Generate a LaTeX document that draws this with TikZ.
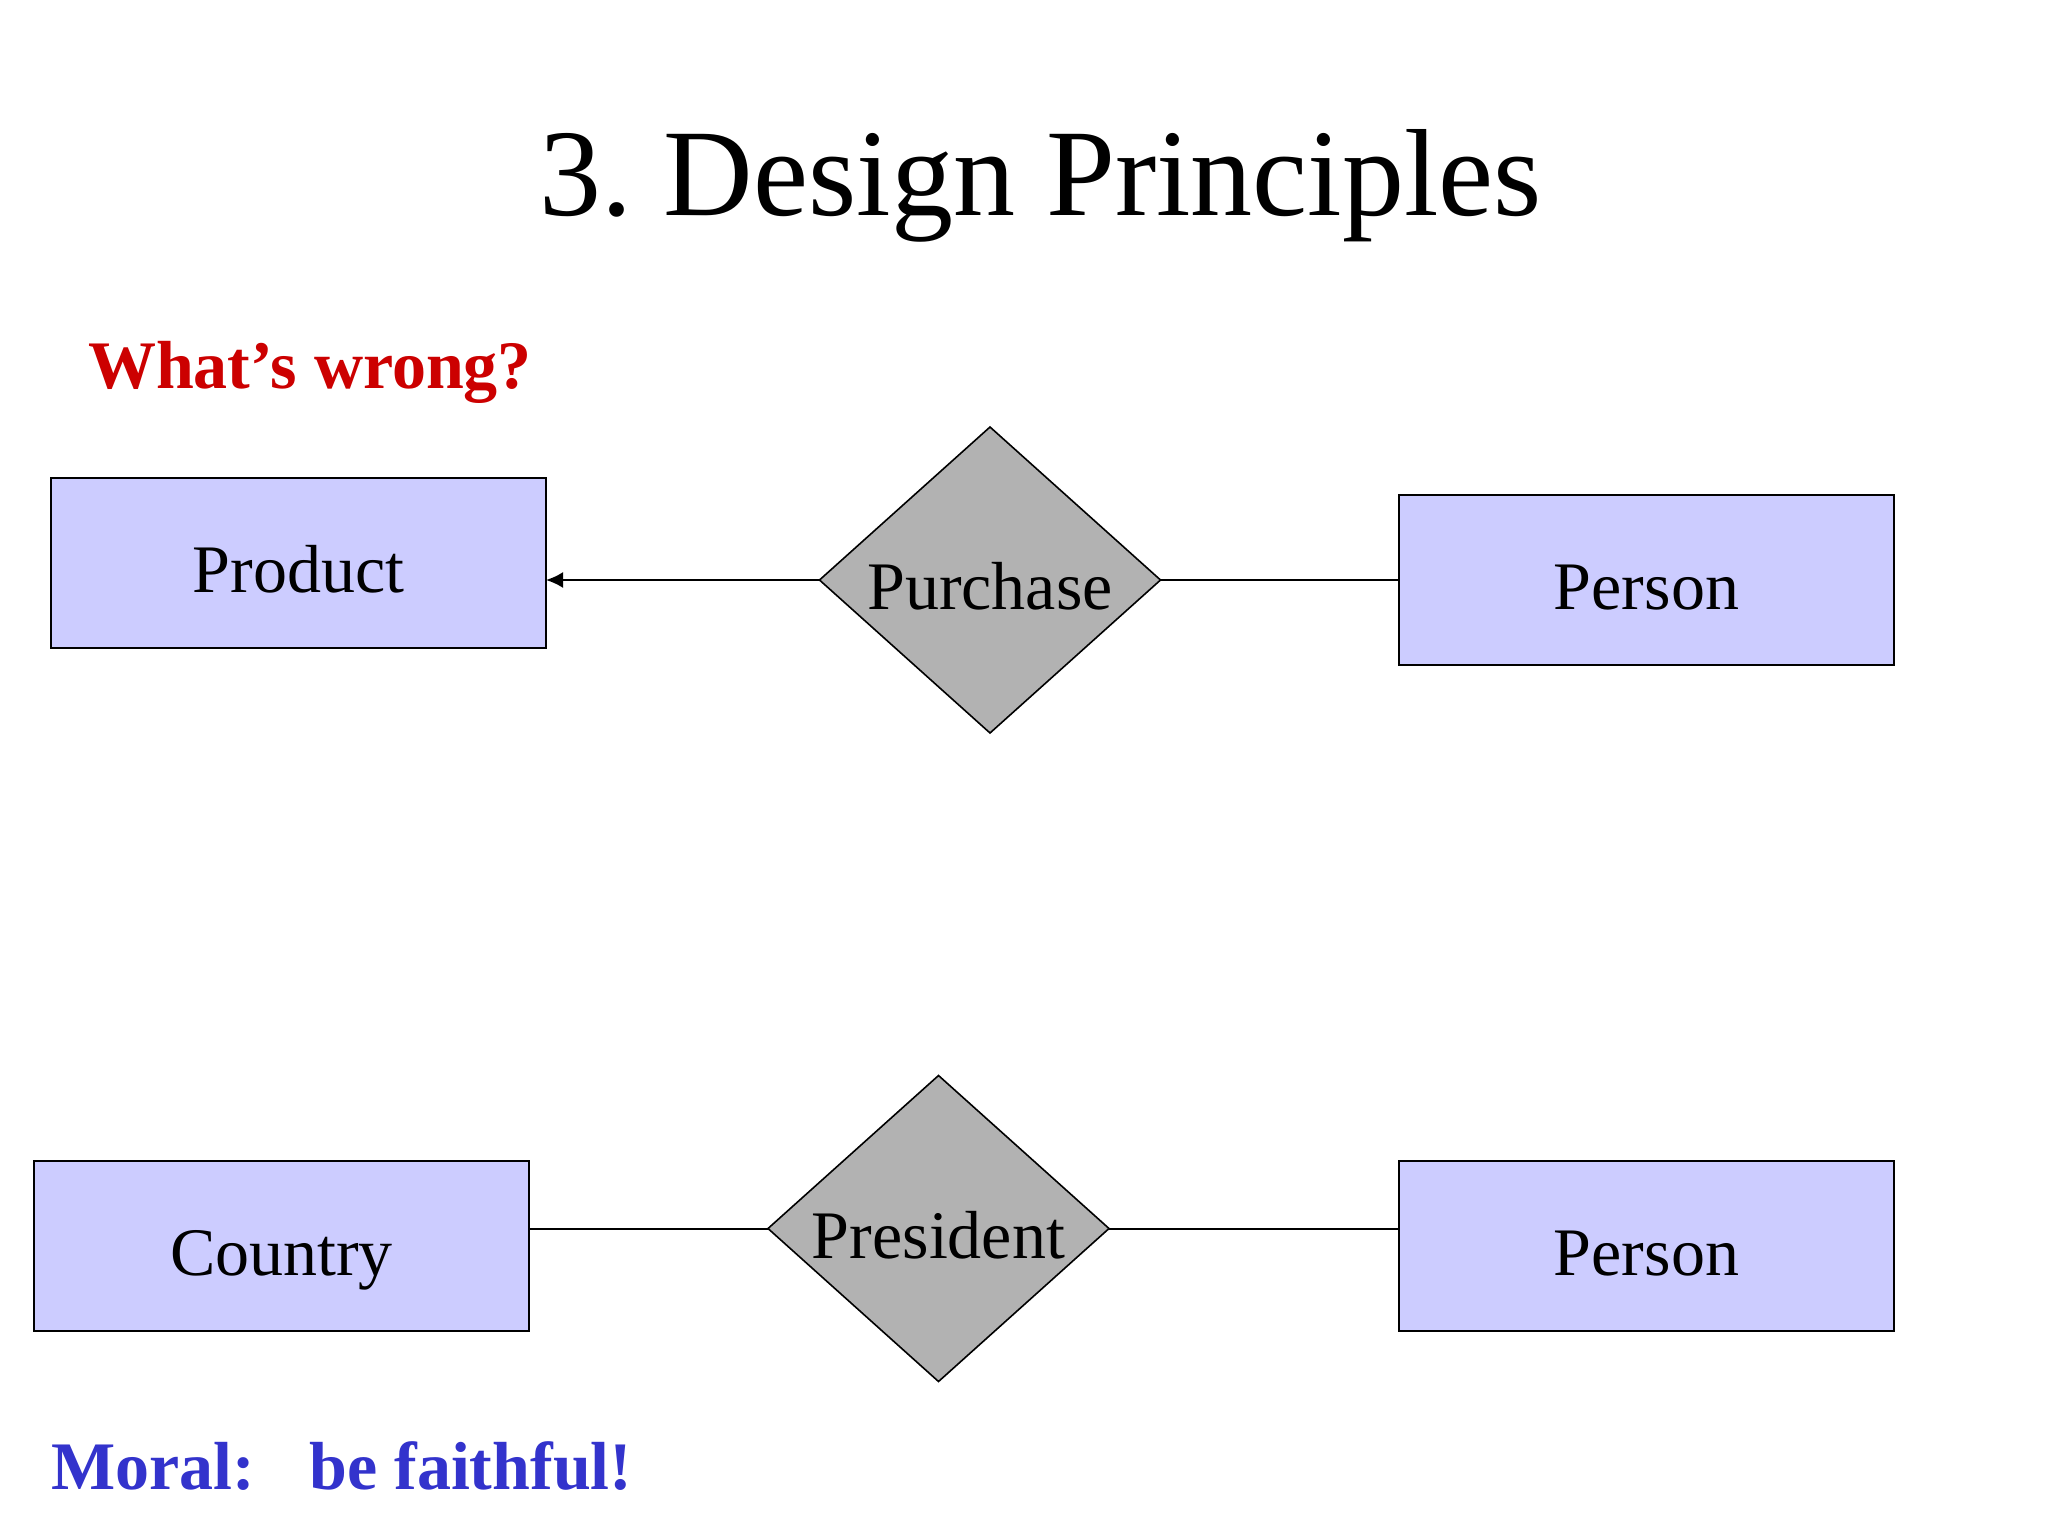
\documentclass[tikz,border=0pt]{standalone}
\usepackage{fontspec}
\setmainfont{Liberation Serif}
\usepackage{xcolor}
\usepackage{tikz}
\usetikzlibrary{arrows.meta, shapes.geometric}
\definecolor{entityblue}{RGB}{204,204,255}
\definecolor{relgray}{RGB}{178,178,178}
\definecolor{wrongred}{RGB}{204,0,0}
\definecolor{moralblue}{RGB}{51,51,204}
\frenchspacing

\begin{document}
\begin{tikzpicture}[x=0.5pt, y=-0.5pt, >={Latex[length=8.5pt,width=8pt]},
  entity/.style={rectangle, draw=black, fill=entityblue, line width=1pt,
    minimum width=247.5pt, minimum height=85pt, inner sep=0pt, outer sep=0pt,
    text height=29.5pt, text depth=0pt,
    font=\fontsize{34pt}{40pt}\selectfont},
  relation/.style={diamond, aspect=1.114, draw=black, fill=relgray, line width=0.8pt,
    minimum width=170.5pt, minimum height=153pt, inner sep=0pt, outer sep=0pt,
    text height=29.5pt, text depth=0pt,
    font=\fontsize{34pt}{40pt}\selectfont},
  link/.style={line width=1pt}]
\useasboundingbox (0,0) rectangle (2048,1536);
% heading and remarks
\node[anchor=base, font=\fontsize{62pt}{70pt}\selectfont] (title) at (1041,215) {3. Design Principles};
\node[anchor=base west, text=wrongred, font=\fontsize{34pt}{40pt}\selectfont\bfseries] (wrong) at (81,388) {What’s wrong?};
\node[anchor=base west, text=moralblue, font=\fontsize{34pt}{40pt}\selectfont\bfseries] (moral) at (44,1489) {Moral:\hspace{0.8em}be faithful!};
% first diagram
\node[entity] (product) at (298.5,563) {Product};
\node[relation] (purchase) at (990,580) {Purchase};
\node[entity] (person1) at (1646.5,580) {Person};
\draw[link, ->] (purchase.west) -- (purchase.west -| product.east);
\draw[link] (purchase.east) -- (purchase.east -| person1.west);
% second diagram
\node[entity] (country) at (281.5,1245.5) {Country};
\node[relation] (president) at (938.5,1228.5) {President};
\node[entity] (person2) at (1646.5,1245.5) {Person};
\draw[link] (president.west) -- (president.west -| country.east);
\draw[link] (president.east) -- (president.east -| person2.west);
\end{tikzpicture}
\end{document}
